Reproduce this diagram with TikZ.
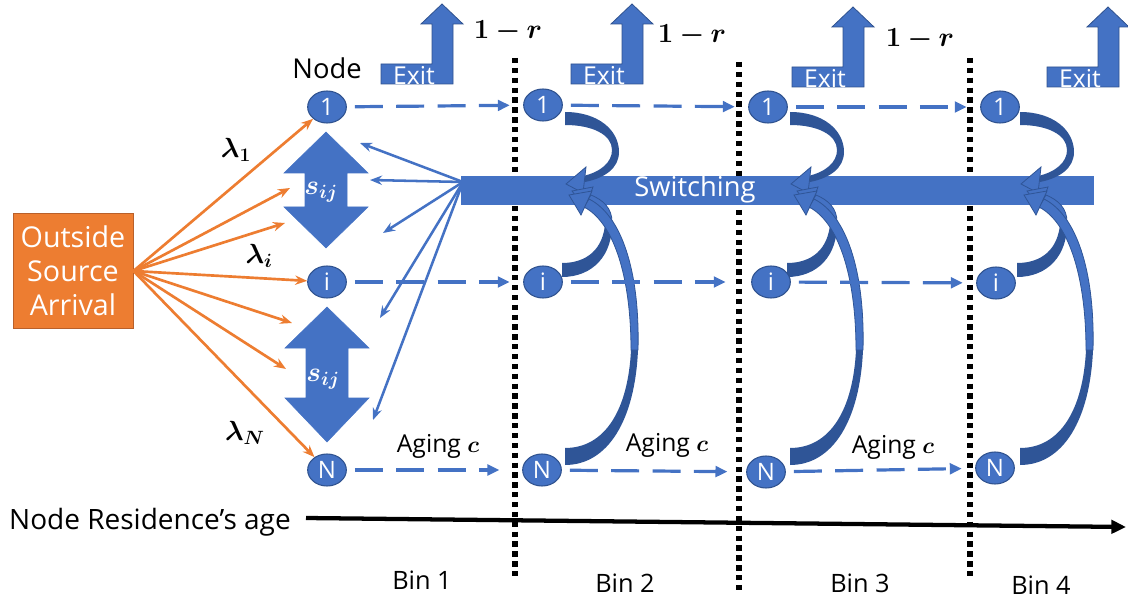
\documentclass[tikz,border=0pt]{standalone}
\usepackage[no-math]{fontspec}
\setmainfont{Open Sans}
\setsansfont{Open Sans}
\usepackage{amsmath,bm}
\usetikzlibrary{arrows.meta,shapes.geometric,calc}

\definecolor{pblue}{HTML}{4472C4}
\definecolor{pdark}{HTML}{2F5597}
\definecolor{pline}{HTML}{2F528F}
\definecolor{porange}{HTML}{ED7D31}
\definecolor{porline}{HTML}{B9602A}

\newcommand{\fsz}[1]{\fontsize{#1}{#1}\selectfont}

\tikzset{
  qnode/.style={ellipse, fill=pblue, draw=pline, line width=0.8pt,
    minimum width=29pt, minimum height=24pt, inner sep=0pt,
    text=white, font=\fsz{18}},
  flowdash/.style={pblue, line width=2.4pt, dash pattern=on 21pt off 10pt,
    -{Triangle[length=9pt,width=8pt]}, shorten <=6pt, shorten >=10pt},
  arrive/.style={porange, line width=2pt, -{Stealth[length=9pt,width=7pt]}},
  swarrow/.style={pblue, line width=1.9pt, -{Stealth[length=9pt,width=7pt]}},
  binline/.style={black, line width=4pt, dash pattern=on 4pt off 3.4pt},
  txt/.style={inner sep=0pt, text=black},
  exitpic/.pic={
    \filldraw[pblue, draw=pline, line width=0.6pt]
      (0,60) -- (51,60) -- (51,20) -- (40,20) -- (61,0) -- (82,20)
      -- (72,20) -- (72,80) -- (0,80) -- cycle;
    \node[inner sep=0pt, text=white, font=\fsz{18.5}] (-lbl) at (33,72) {Exit};
  },
  loops/.pic={
    % band leaving node 1 and bending back into the switching bar
    \fill[pdark] (22,112) .. controls (55,112) and (76,130) .. (76,152)
      .. controls (76,168) and (62,178) .. (42,182) -- (40,176)
      .. controls (58,172) and (69,162) .. (69,150)
      .. controls (69,135) and (50,125) .. (22,125) -- cycle;
    \filldraw[pblue, draw=pdark, line width=0.6pt] (23,184) -- (43,167) -- (40,193) -- cycle;
    % band leaving node i
    \fill[pdark] (19,277) .. controls (50,277) and (70,255) .. (69,222)
      -- (62,224) .. controls (60,248) and (45,263) .. (19,263) -- cycle;
    \filldraw[pblue, draw=pdark, line width=0.6pt] (69,222)
      .. controls (69,208) and (60,200) .. (48,195) -- (44,201)
      .. controls (54,205) and (62,213) .. (62,224) -- cycle;
    \filldraw[pblue, draw=pdark, line width=0.6pt] (29,191) -- (50,187) -- (42,208) -- cycle;
    % band leaving node N
    \fill[pdark] (22,465) .. controls (65,465) and (92,420) .. (95,350)
      -- (88,350) .. controls (85,410) and (62,448) .. (22,448) -- cycle;
    \filldraw[pblue, draw=pdark, line width=0.6pt] (95,350)
      .. controls (97,270) and (78,215) .. (46,199) -- (41,207)
      .. controls (70,222) and (88,275) .. (88,350) -- cycle;
    \filldraw[pblue, draw=pdark, line width=0.6pt] (26,195) -- (49,191) -- (38,215) -- cycle;
  }
}

\begin{document}
\begin{tikzpicture}[x=0.75pt, y=-0.75pt]
\useasboundingbox (0,0) rectangle (1128,602);

% bin separators
\draw[binline] (515,58) -- (515,580);
\draw[binline] (739,62) -- (739,590);
\draw[binline] (970,58) -- (970,580);

% exit arrows
\pic (ex1) at (381,4) {exitpic};
\pic (ex2) at (571,4) {exitpic};
\pic (ex3) at (792,7) {exitpic};
\pic (ex4) at (1047,7) {exitpic};
\node[txt, font=\fsz{20}] (r1) at (508,31) {$\bm{1-r}$};
\node[txt, font=\fsz{20}] (r2) at (692,35) {$\bm{1-r}$};
\node[txt, font=\fsz{20}] (r3) at (920,39) {$\bm{1-r}$};

% switching bar
\node[rectangle, fill=pblue, draw=pblue, minimum width=474pt, minimum height=21pt,
  inner sep=0pt] (swbar) at (777,190) {};
\node[inner sep=0pt, text=white, font=\fsz{20.5}] (swtxt) at (695,189) {Switching};

% switching loops in bins 2-4
\pic (lp2) at (543,0) {loops};
\pic (lp3) at (768,0) {loops};
\pic (lp4) at (998,0) {loops};

% outside arrivals
\node[rectangle, fill=porange, draw=porline, line width=0.7pt, minimum width=90pt,
  minimum height=86pt, inner sep=0pt, text=white, font=\fsz{21.5},
  align=center] (src) at (73,271)
  {Outside\\[4pt]Source\\[4pt]Arrival};

% nodes
\node[qnode] (a1) at (327,107) {1};
\node[qnode] (ai) at (327,282) {i};
\node[qnode] (aN) at (327,470) {N};
\node[qnode] (b1) at (543,105) {1};
\node[qnode] (bi) at (543,282) {i};
\node[qnode] (bN) at (542,470) {N};
\node[qnode] (c1) at (768,107) {1};
\node[qnode] (ci) at (771,282) {i};
\node[qnode] (cN) at (766,472) {N};
\node[qnode] (d1) at (1000,107) {1};
\node[qnode] (di) at (996,283) {i};
\node[qnode] (dN) at (995,468) {N};

\node[txt, font=\fsz{20.5}] (nodelbl) at (327,68) {Node};

% switching rates
\filldraw[pblue] (326,132) -- (368,173) -- (347,173) -- (347,207) -- (368,207)
  -- (326,248) -- (284,207) -- (305,207) -- (305,173) -- (284,173) -- cycle;
\filldraw[pblue] (327,307) -- (369,348) -- (348,348) -- (348,398) -- (369,398)
  -- (327,442) -- (285,398) -- (306,398) -- (306,348) -- (285,348) -- cycle;
\node[txt, text=white, font=\fsz{21}] (s1) at (321,192) {$\bm{s_{ij}}$};
\node[txt, text=white, font=\fsz{21}] (s2) at (323,379) {$\bm{s_{ij}}$};

% arrival arrows
\coordinate (o2) at (290,188);
\coordinate (o3) at (285,223);
\coordinate (o5) at (292,323);
\coordinate (o6) at (286,369);
\draw[arrive] (src.east) -- (a1);
\draw[arrive] (src.east) -- (o2);
\draw[arrive] (src.east) -- (o3);
\draw[arrive] (src.east) -- (ai);
\draw[arrive] (src.east) -- (o5);
\draw[arrive] (src.east) -- (o6);
\draw[arrive] (src.east) -- (aN);
\node[txt, font=\fsz{20}] (l1) at (236,150) {$\bm{\lambda_1}$};
\node[txt, font=\fsz{20}] (li) at (259,256) {$\bm{\lambda_i}$};
\node[txt, font=\fsz{20}] (lN) at (245,433) {$\bm{\lambda_N}$};

% switching arrows back to bin 1
\coordinate (sws) at (463,182);
\coordinate (t1) at (360,143);
\coordinate (t2) at (370,180);
\coordinate (t3) at (383,233);
\coordinate (t4) at (380,318);
\coordinate (t5) at (373,420);
\foreach \t in {t1,t2,t3,t4,t5} \draw[swarrow] (sws) -- (\t);

% aging flows
\draw[flowdash] (a1) -- (b1);
\draw[flowdash] (ai) -- (bi);
\draw[flowdash, shorten >=17pt] (aN) -- (bN);
\draw[flowdash] (b1) -- (c1);
\draw[flowdash, shorten >=19pt] (bi) -- (ci);
\draw[flowdash, shorten >=14pt] (bN) -- (cN);
\draw[flowdash] (c1) -- (d1);
\draw[flowdash] (ci) -- (di);
\draw[flowdash] (cN) -- (dN);

\node[txt, font=\fsz{18.5}] (ag1) at (438,446) {Aging $\bm{c}$};
\node[txt, font=\fsz{18.5}] (ag2) at (667,445) {Aging $\bm{c}$};
\node[txt, font=\fsz{18.5}] (ag3) at (893,447) {Aging $\bm{c}$};

% age axis
\node[txt, font=\fsz{21}] (axlbl) at (150,522) {Node Residence’s age};
\coordinate (axend) at (1126,527);
\draw[black, line width=3.2pt, -{Triangle[length=11pt,width=10pt]}]
  (306,518) -- (axend);

\node[txt, font=\fsz{19}] (bin1) at (422,580) {Bin 1};
\node[txt, font=\fsz{19}] (bin2) at (625,583) {Bin 2};
\node[txt, font=\fsz{19}] (bin3) at (860,583) {Bin 3};
\node[txt, font=\fsz{19}] (bin4) at (1041,585) {Bin 4};
\end{tikzpicture}
\end{document}
